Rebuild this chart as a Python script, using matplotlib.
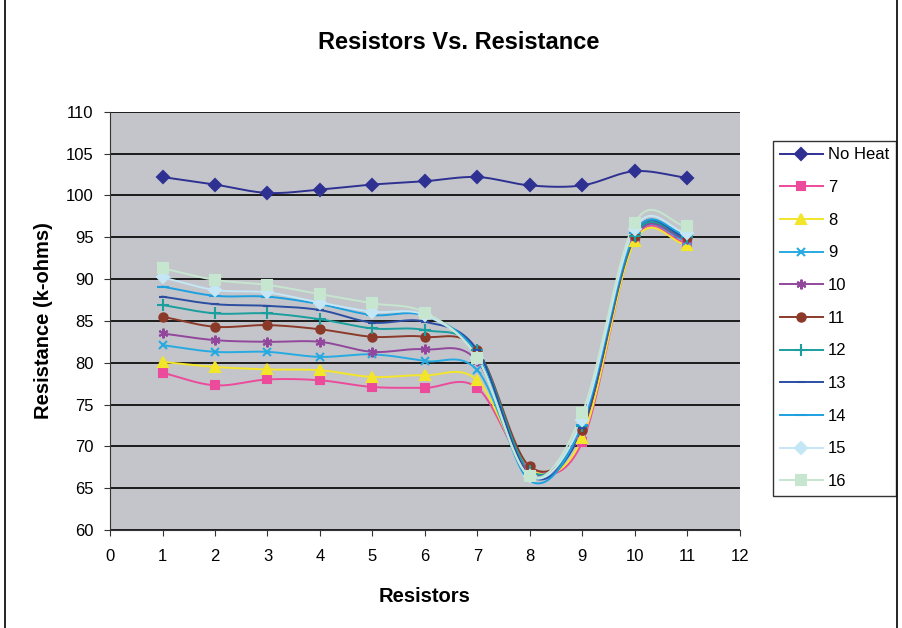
import numpy as np
import matplotlib
matplotlib.use("Agg")
import matplotlib.pyplot as plt
from matplotlib.lines import Line2D

plt.rcParams['font.family'] = ['Liberation Sans', 'DejaVu Sans']

resistors = [1, 2, 3, 4, 5, 6, 7, 8, 9, 10, 11]

no_heat = [102.2, 101.3, 100.3, 100.7, 101.3, 101.7, 102.2, 101.2, 101.2, 102.9, 102.1]
r7 = [78.8, 77.3, 78.0, 77.9, 77.1, 77.0, 77.0, 67.4, 70.5, 94.7, 94.3]
r8 = [80.1, 79.5, 79.2, 79.1, 78.3, 78.5, 77.9, 67.2, 71.0, 94.5, 94.1]
r9 = [82.1, 81.3, 81.3, 80.7, 81.0, 80.2, 79.1, 66.6, 72.0, 95.0, 94.6]
r10 = [83.5, 82.7, 82.5, 82.5, 81.3, 81.6, 80.2, 67.0, 72.0, 95.0, 94.8]
r11 = [85.5, 84.3, 84.5, 84.0, 83.1, 83.1, 81.5, 67.6, 72.0, 95.2, 95.0]
r12 = [86.9, 85.9, 85.9, 85.2, 84.1, 83.9, 81.5, 67.1, 72.4, 95.2, 95.0]
r13 = [87.9, 87.0, 86.8, 86.3, 84.8, 84.9, 81.5, 66.5, 72.2, 95.5, 95.0]
r14 = [89.1, 88.0, 87.9, 87.0, 85.7, 85.6, 81.0, 65.9, 72.6, 95.5, 95.3]
r15 = [90.2, 88.7, 88.4, 87.2, 86.1, 85.7, 80.6, 66.4, 73.2, 96.0, 95.5]
r16 = [91.3, 89.9, 89.3, 88.2, 87.1, 86.0, 80.6, 66.4, 74.0, 96.7, 96.3]

labels = ['No Heat', '7', '8', '9', '10', '11', '12', '13', '14', '15', '16']
series = [no_heat, r7, r8, r9, r10, r11, r12, r13, r14, r15, r16]
colors = ['#2e3192', '#ec4a9b', '#f2e52a', '#27aae1', '#92479c', '#8b3a2a',
          '#1a9e9e', '#2b4ea2', '#1ca0e0', '#c5e6f5', '#c6e6cf']
markers = ['D', 's', '^', 'x', (6, 2, 0), 'o', '+', '_', '_', 'D', 's']
msizes = [6, 6, 7, 6, 7, 6, 8, 6, 8, 6, 7]


def smooth(x, y, n=20):
    # Catmull-Rom style curve through the points, like Excel's smoothed lines
    x = np.asarray(x, float)
    y = np.asarray(y, float)
    px = np.concatenate([[2 * x[0] - x[1]], x, [2 * x[-1] - x[-2]]])
    py = np.concatenate([[2 * y[0] - y[1]], y, [2 * y[-1] - y[-2]]])
    xs, ys = [], []
    t = np.linspace(0, 1, n)
    for i in range(1, len(px) - 2):
        for p, out in ((px, xs), (py, ys)):
            p0, p1, p2, p3 = p[i - 1], p[i], p[i + 1], p[i + 2]
            out.extend(0.5 * (2 * p1 + (-p0 + p2) * t
                              + (2 * p0 - 5 * p1 + 4 * p2 - p3) * t ** 2
                              + (-p0 + 3 * p1 - 3 * p2 + p3) * t ** 3))
    return xs, ys


fig = plt.figure(figsize=(9.02, 6.28), dpi=100)
ax = fig.add_axes([0.122, 0.156, 0.698, 0.666])
ax.set_facecolor('#c3c5ca')

handles = []
for y, lab, c, m, ms in zip(series, labels, colors, markers, msizes):
    sx, sy = smooth(resistors, y)
    ax.plot(sx, sy, color=c, lw=1.4, zorder=3)
    ax.plot(resistors, y, ls='none', marker=m, color=c, ms=ms, mew=1.5, zorder=4)
    handles.append(Line2D([], [], color=c, lw=1.4, marker=m, ms=ms, mew=1.5, label=lab))

ax.set_xlim(0, 12)
ax.set_ylim(60, 110)
ax.set_xticks(range(0, 13))
ax.set_yticks(range(60, 111, 5))
ax.yaxis.grid(True, color='black', lw=1.2)
ax.set_axisbelow(True)
ax.tick_params(axis='x', labelsize=12, direction='out', length=4, pad=10, color='#333333')
ax.tick_params(axis='y', labelsize=12, direction='out', length=4, pad=8, color='#333333')
for s in ['top', 'right']:
    ax.spines[s].set_visible(False)
ax.spines['left'].set_color('#333333')
ax.spines['bottom'].set_color('#333333')

ax.set_xlabel('Resistors', fontsize=14.5, fontweight='bold', labelpad=16)
ax.set_ylabel('Resistance (k-ohms)', fontsize=14.5, fontweight='bold', labelpad=9)
fig.text(0.508, 0.933, 'Resistors Vs. Resistance', ha='center', va='center',
         fontsize=17, fontweight='bold')

leg = fig.legend(handles=handles, loc='upper left', bbox_to_anchor=(0.857, 0.776),
                 fontsize=12, frameon=True, fancybox=False, edgecolor='black',
                 handlelength=2.6, handletextpad=0.3, labelspacing=1.06,
                 borderpad=0.4, borderaxespad=0)
leg.get_frame().set_linewidth(1.0)

# outer frame of the chart
fig.patches.append(plt.Rectangle((0.006, -0.01), 0.988, 1.1, transform=fig.transFigure,
                                 fill=False, edgecolor='black', lw=1.2))

fig.savefig('out.png', dpi=100)
